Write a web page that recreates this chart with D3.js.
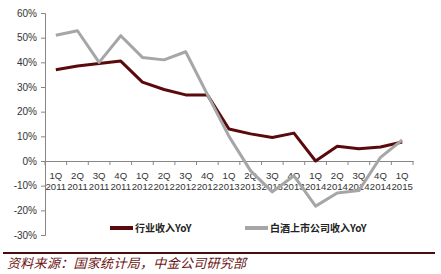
<!DOCTYPE html>
<html>
<head>
<meta charset="utf-8">
<script src="https://cdnjs.cloudflare.com/ajax/libs/d3/7.8.5/d3.min.js"></script>
<style>
  html, body { margin: 0; padding: 0; background: #fff; }
  #chart { width: 441px; height: 274px; }
</style>
</head>
<body>
<div id="chart"></div>
<script>
// chart data
const quarters = ["1Q","2Q","3Q","4Q","1Q","2Q","3Q","4Q","1Q","2Q","3Q","4Q","1Q","2Q","3Q","4Q","1Q"];
const years = ["2011","2011","2011","2011","2012","2012","2012","2012","2013","2013","2013","2013","2014","2014","2014","2014","2015"];
const industryYoY = [37, 38.5, 39.5, 40.5, 32, 29, 26.8, 26.8, 13, 11, 9.5, 11.3, 0, 6, 5, 5.7, 7.7];
const liquorYoY = [51, 52.8, 40, 50.8, 42, 41, 44.3, 27, 10, -4, -12.5, -6, -18.3, -13, -12, 1.5, 8.5];
const yTicks = [-30, -20, -10, 0, 10, 20, 30, 40, 50, 60];
const seriesNames = ["行业收入YoY", "白酒上市公司收入YoY"];
const sourceText = "资料来源：国家统计局，中金公司研究部";

const maroon = "#5a0a0c";
const grey = "#a6a6a6";
const axisCol = "#868686";

const svg = d3.select("#chart").append("svg")
  .attr("width", 441)
  .attr("height", 274);

const keys = quarters.map((q, i) => q + years[i]);

const x = d3.scaleBand()
  .domain(keys)
  .range([45, 413]);

const y = d3.scaleLinear()
  .domain([-30, 60])
  .range([235, 13]);

// y axis
const yAxis = svg.append("g")
  .attr("transform", "translate(45,0)")
  .call(d3.axisLeft(y).tickValues(yTicks).tickSize(4).tickFormat(d => d + "%"));
yAxis.select(".domain").attr("stroke", axisCol);
yAxis.selectAll(".tick line").attr("stroke", axisCol);
yAxis.selectAll(".tick text")
  .attr("x", -8)
  .attr("fill", "#333")
  .style("font-family", "'Liberation Sans', Arial, sans-serif")
  .style("font-size", "10px");

// x axis at 0%
const xAxis = svg.append("g")
  .attr("transform", "translate(0," + y(0) + ")")
  .call(d3.axisBottom(x).tickSize(0).tickFormat(""));
xAxis.select(".domain").attr("stroke", axisCol);
xAxis.selectAll(".tick text").remove();

// tick marks between categories
const bounds = d3.range(keys.length + 1).map(i => x.range()[0] + i * x.step());
xAxis.selectAll(".bound")
  .data(bounds)
  .join("line")
  .attr("class", "bound")
  .attr("x1", d => d).attr("x2", d => d)
  .attr("y1", 0).attr("y2", 4)
  .attr("stroke", axisCol);

// two-line category labels
const lbl = xAxis.selectAll(".lbl")
  .data(keys)
  .join("text")
  .attr("class", "lbl")
  .attr("text-anchor", "middle")
  .attr("fill", "#333")
  .style("font-family", "'Liberation Sans', Arial, sans-serif")
  .style("font-size", "9.6px");
lbl.append("tspan")
  .attr("x", d => x(d) + x.bandwidth() / 2)
  .attr("y", 18)
  .text((d, i) => quarters[i]);
lbl.append("tspan")
  .attr("x", d => x(d) + x.bandwidth() / 2)
  .attr("y", 29)
  .text((d, i) => years[i]);

// lines
const line = d3.line()
  .x((d, i) => x(keys[i]) + x.bandwidth() / 2)
  .y(d => y(d));

svg.append("path")
  .datum(industryYoY)
  .attr("d", line)
  .attr("fill", "none")
  .attr("stroke", maroon)
  .attr("stroke-width", 3)
  .attr("stroke-linejoin", "round");

svg.append("path")
  .datum(liquorYoY)
  .attr("d", line)
  .attr("fill", "none")
  .attr("stroke", grey)
  .attr("stroke-width", 3)
  .attr("stroke-linejoin", "round");

// legend
const legend = [
  { name: seriesNames[0], color: maroon, x: 110 },
  { name: seriesNames[1], color: grey, x: 245 }
];
const lg = svg.selectAll(".legend")
  .data(legend)
  .join("g")
  .attr("class", "legend")
  .attr("transform", d => "translate(" + d.x + ",228)");
lg.append("line")
  .attr("x1", 0).attr("x2", 23)
  .attr("stroke", d => d.color)
  .attr("stroke-width", 4);
lg.append("text")
  .attr("x", 25)
  .attr("y", 4)
  .attr("fill", "#222")
  .style("font-family", "'Noto Sans CJK SC', sans-serif")
  .style("font-size", "10px")
  .style("font-weight", "bold")
  .text(d => d.name);

// source footer
svg.append("line")
  .attr("x1", 3).attr("x2", 435)
  .attr("y1", 253).attr("y2", 253)
  .attr("stroke", "#4a0c0c")
  .attr("stroke-width", 2);

svg.append("text")
  .attr("x", 7)
  .attr("y", 268)
  .attr("fill", "#6b1414")
  .style("font-family", "'Noto Sans CJK SC', sans-serif")
  .style("font-size", "13px")
  .style("font-style", "italic")
  .style("letter-spacing", "0.3px")
  .text(sourceText);
</script>
</body>
</html>
